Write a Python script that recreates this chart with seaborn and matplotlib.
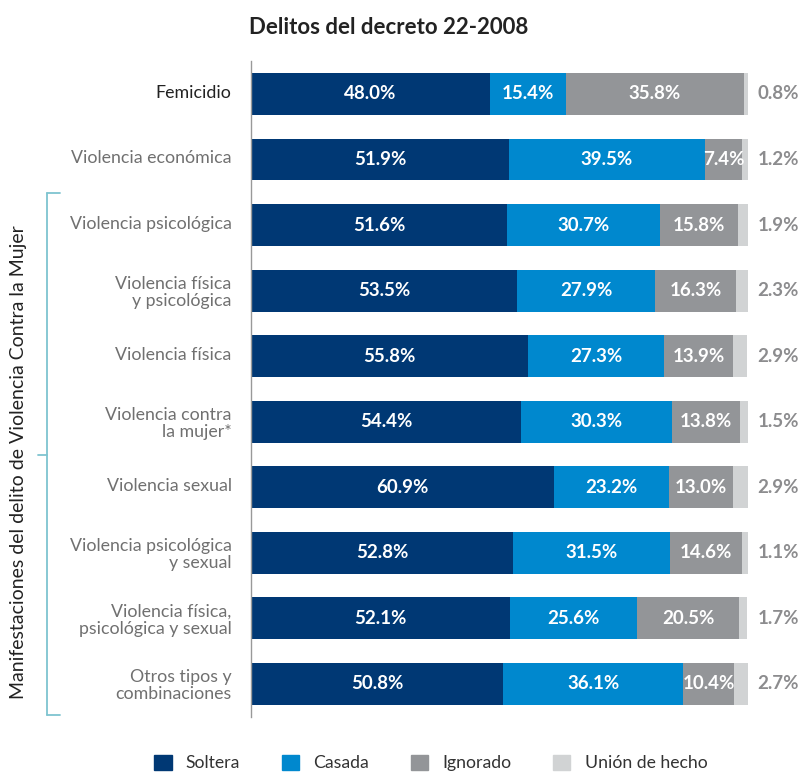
import matplotlib.pyplot as plt
import matplotlib.patches as mpatches
import matplotlib.transforms as mtransforms
import seaborn as sns
import pandas as pd
import numpy as np

categorias = ["Femicidio", "Violencia económica", "Violencia psicológica",
              "Violencia física\ny psicológica", "Violencia física",
              "Violencia contra\nla mujer*", "Violencia sexual",
              "Violencia psicológica\ny sexual", "Violencia física,\npsicológica y sexual",
              "Otros tipos y\ncombinaciones"]
soltera = [48.0, 51.9, 51.6, 53.5, 55.8, 54.4, 60.9, 52.8, 52.1, 50.8]
casada = [15.4, 39.5, 30.7, 27.9, 27.3, 30.3, 23.2, 31.5, 25.6, 36.1]
ignorado = [35.8, 7.4, 15.8, 16.3, 13.9, 13.8, 13.0, 14.6, 20.5, 10.4]
union = [0.8, 1.2, 1.9, 2.3, 2.9, 1.5, 2.9, 1.1, 1.7, 2.7]

series = ["Soltera", "Casada", "Ignorado", "Unión de hecho"]
colores = ["#003874", "#0088CE", "#939598", "#D1D3D4"]

df = pd.DataFrame({"cat": categorias, "Soltera": soltera, "Casada": casada,
                   "Ignorado": ignorado, "Unión de hecho": union})
acum = df[series].cumsum(axis=1)

sns.set_style("white")
plt.rcParams["font.family"] = ["Lato", "DejaVu Sans"]

fig = plt.figure(figsize=(8.05, 7.74), dpi=100)
ax = fig.add_axes([0.312, 0.074, 0.617, 0.847])

# stacked bars: draw cumulative totals from the largest down
for s, c in reversed(list(zip(series, colores))):
    sns.barplot(x=acum[s], y=df["cat"], color=c, width=0.64, ax=ax,
                orient="h", linewidth=0, saturation=1)

# labels inside the bars
for i in range(len(df)):
    izq = 0
    for s in series[:3]:
        v = df.loc[i, s]
        ax.text(izq + v / 2, i, f"{v:.1f}%", ha="center", va="center",
                color="white", fontsize=13.5, fontweight="bold")
        izq += v
    ax.annotate(f"{df.loc[i, 'Unión de hecho']:.1f}%", xy=(100, i), xytext=(7, 0),
                textcoords="offset points", ha="left", va="center",
                color="#8C8C8E", fontsize=13.5, fontweight="bold")

ax.set_xlim(0, 100)
ax.set_ylim(9.5, -0.5)
ax.set_xlabel("")
ax.set_ylabel("")
ax.set_xticks([])
ax.tick_params(axis="y", length=0, pad=14)
subir = mtransforms.ScaledTranslation(0, 0.025, fig.dpi_scale_trans)
for lab in ax.get_yticklabels():
    lab.set_fontsize(12.8)
    lab.set_color("#707070")
    lab.set_multialignment("right")
    lab.set_linespacing(1.05)
    if "\n" not in lab.get_text():
        lab.set_transform(lab.get_transform() + subir)
ax.get_yticklabels()[0].set_color("#222222")
for sp in ["top", "right", "bottom"]:
    ax.spines[sp].set_visible(False)
ax.spines["left"].set_color("#999999")
ax.spines["left"].set_linewidth(1)

fig.text(389 / 805, 1 - 28 / 774, "Delitos del decreto 22-2008", fontsize=16,
         fontweight="bold", color="#222222", ha="center", va="center")

# bracket for the group
br = "#7EC4D0"
fig.add_artist(plt.Line2D([47 / 805, 47 / 805], [1 - 193 / 774, 1 - 715 / 774], color=br, lw=1.3))
fig.add_artist(plt.Line2D([47 / 805, 60 / 805], [1 - 193 / 774, 1 - 193 / 774], color=br, lw=1.3))
fig.add_artist(plt.Line2D([47 / 805, 60 / 805], [1 - 715 / 774, 1 - 715 / 774], color=br, lw=1.3))
fig.add_artist(plt.Line2D([38 / 805, 47 / 805], [1 - 455 / 774, 1 - 455 / 774], color=br, lw=1.3))
fig.text(19 / 805, 1 - 462 / 774, "Manifestaciones del delito de Violencia Contra la Mujer",
         rotation=90, ha="center", va="center", fontsize=14, color="#222222")

handles = [mpatches.Patch(color=c, label=s) for s, c in zip(series, colores)]
fig.legend(handles=handles, loc="center", bbox_to_anchor=(0.535, 1 - 763 / 774), ncol=4,
           frameon=False, fontsize=12.7, handlelength=1.0, handleheight=1.0,
           columnspacing=2.35, handletextpad=0.8, labelcolor="#333333")

fig.savefig("out.png", dpi=100)
